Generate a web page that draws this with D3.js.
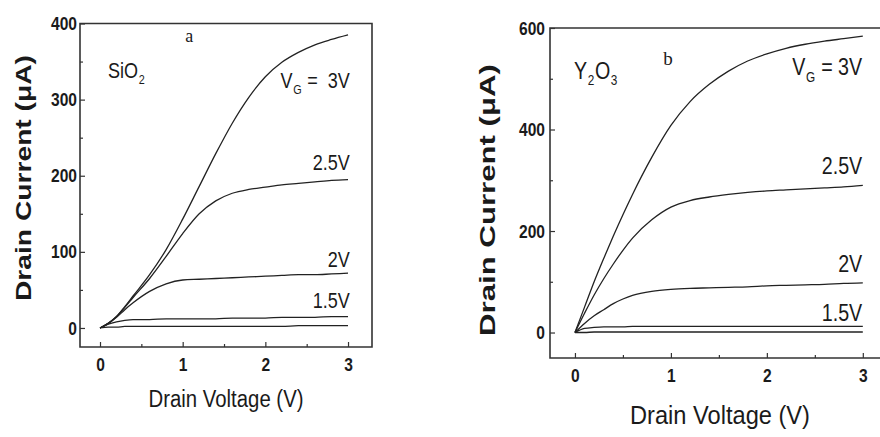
<!DOCTYPE html>
<html>
<head>
<meta charset="utf-8">
<script src="https://cdn.jsdelivr.net/npm/d3@7"></script>
<style>
  body { margin: 0; background: #fff; }
  svg { display: block; }
</style>
</head>
<body>
<svg id="chart" width="880" height="437"></svg>
<script>
// ---- Output characteristics, SiO2 gate dielectric (drain current in µA) ----
const sio2Vd   = [0, 0.1, 0.2, 0.3, 0.4, 0.6, 0.8, 1.0, 1.2, 1.4, 1.6, 1.8, 2.0, 2.2, 2.4, 2.6, 2.8, 3.0];
const sio2Vg3  = [0, 6, 15, 28, 42, 70, 103, 143, 186, 229, 269, 303, 330, 349, 362, 372, 379, 385];
const sio2Vg25 = [0, 6, 15, 27, 40, 65, 94, 124, 150, 167, 177, 182, 185, 188, 190, 192, 194, 195];
const sio2Vg2  = [0, 6, 14, 24, 33, 48, 58, 63, 64, 65, 66, 67, 68, 69, 70, 70, 71, 72];
const sio2Vg15 = [0, 5, 8, 10, 11, 11, 12, 12, 12, 12, 13, 13, 13, 14, 14, 14, 15, 15];
const sio2Vg1  = [0, 1, 1, 2, 2, 2, 2, 2, 2, 2, 2, 2, 2, 2, 3, 3, 3, 3];

// ---- Output characteristics, Y2O3 gate dielectric (drain current in µA) ----
const y2o3Vd   = [0, 0.1, 0.2, 0.3, 0.4, 0.5, 0.6, 0.8, 1.0, 1.2, 1.4, 1.6, 1.8, 2.0, 2.2, 2.4, 2.6, 2.8, 3.0];
const y2o3Vg3  = [0, 50, 100, 146, 190, 232, 272, 345, 408, 455, 489, 515, 535, 549, 560, 568, 574, 579, 584];
const y2o3Vg25 = [0, 38, 74, 106, 135, 162, 186, 222, 247, 260, 267, 272, 276, 279, 281, 283, 285, 287, 290];
const y2o3Vg2  = [0, 18, 33, 45, 57, 66, 73, 81, 85, 87, 88, 89, 90, 92, 93, 94, 95, 97, 98];
const y2o3Vg15 = [0, 8, 10, 11, 11, 11, 12, 12, 12, 12, 12, 12, 12, 12, 12, 12, 12, 12, 12];
const y2o3Vg1  = [0, 0, 1, 1, 1, 1, 1, 1, 1, 1, 1, 1, 1, 1, 1, 1, 1, 1, 1];

// ---- Gate-voltage labels (first one carries the "V_G =" prefix) ----
const gateLabels = ["3V", "2.5V", "2V", "1.5V"];

// ---- Tick values ----
const sio2YTicks = [0, 100, 200, 300, 400];
const sio2YMinor = [50, 150, 250, 350];
const y2o3YTicks = [0, 200, 400, 600];
const y2o3YMinor = [100, 300, 500];
const xTicks = [0, 1, 2, 3];
const xMinor = [0.5, 1.5, 2.5];

const NARROW = "'Liberation Sans Narrow', 'Arial Narrow', 'Liberation Sans', Arial, sans-serif";
const WIDE = "'Liberation Sans', Arial, sans-serif";
const SERIF = "'Liberation Serif', 'Times New Roman', serif";
const INK = "#1a1a1a";

const svg = d3.select("#chart");

// horizontal squeeze for the narrow lettering when no condensed face is available
const probe = svg.append("text").style("font-family", NARROW).style("font-size", "100px").text("0000000000");
const SQUEEZE = probe.node().getComputedTextLength() < 500 ? 1 : 0.82;
probe.remove();

// Draws a run of normal / subscript pieces as separate text nodes laid end to end.
function richText(g, x, y, parts, size, anchor) {
  const grp = g.append("g");
  let cx = 0;
  parts.forEach(part => {
    const fs = part.sub ? size * 0.6 : size;
    const t = grp.append("text")
      .attr("x", cx / SQUEEZE)
      .attr("y", part.sub ? size * 0.27 : 0)
      .attr("fill", INK)
      .style("font-family", NARROW)
      .style("font-size", fs + "px")
      .text(part.t);
    cx += t.node().getComputedTextLength() * SQUEEZE + 0.6;
  });
  const shift = anchor === "end" ? -cx : 0;
  grp.attr("transform", `translate(${x + shift},${y}) scale(${SQUEEZE},1)`);
  return grp;
}

const panels = [
  {
    material: [{ t: "SiO" }, { t: "2", sub: true }], letter: "a",
    vd: sio2Vd, series: [sio2Vg3, sio2Vg25, sio2Vg2, sio2Vg15, sio2Vg1],
    xDomain: [-0.242, 3.29], xRange: [80, 372],
    yDomain: [-25, 400], yRange: [347, 23.5],
    yTicks: sio2YTicks, yMinor: sio2YMinor,
    frameRight: 372,
    tickFont: 19, titleFont: 22, xTitleFont: 23, labelFont: 22, materialFont: 22,
    yTitle: { x: 31, y: 178, len: 246 },
    xTitle: { x: 226, y: 407, len: 155 },
    xTickBaseline: 372, yTickRight: 77,
    // label anchors in data units (V, µA): right-aligned text baselines
    labelAt: [[3.03, 315], [3.03, 208], [3.03, 80], [3.03, 26]],
    materialAt: [0.097, 328], letterAt: [1.03, 376],
    letterFont: 18, vgGap: "\u00a0=\u00a0\u00a0"
  },
  {
    material: [{ t: "Y" }, { t: "2", sub: true }, { t: "O" }, { t: "3", sub: true }], letter: "b",
    vd: y2o3Vd, series: [y2o3Vg3, y2o3Vg25, y2o3Vg2, y2o3Vg15, y2o3Vg1],
    xDomain: [-0.26, 3.2], xRange: [550, 882],
    yDomain: [-50.2, 600], yRange: [358, 28],
    yTicks: y2o3YTicks, yMinor: y2o3YMinor,
    frameRight: 882,
    tickFont: 19, titleFont: 22, xTitleFont: 25, labelFont: 24, materialFont: 24,
    yTitle: { x: 495, y: 200, len: 272 },
    xTitle: { x: 720, y: 424, len: 180 },
    xTickBaseline: 383, yTickRight: 545,
    labelAt: [[3.0, 507], [3.0, 312], [3.0, 119], [3.0, 23]],
    materialAt: [-0.01, 500], letterAt: [0.92, 527],
    letterFont: 19, vgGap: "\u00a0=\u00a0"
  }
];

panels.forEach(p => {
  const x = d3.scaleLinear().domain(p.xDomain).range(p.xRange);
  const y = d3.scaleLinear().domain(p.yDomain).range(p.yRange);
  const g = svg.append("g");

  const [x0] = p.xRange;
  const [yb, yt] = p.yRange;

  // frame
  g.append("path")
    .attr("d", `M${x0},${yt}H${p.frameRight}V${yb}H${x0}Z`)
    .attr("fill", "none").attr("stroke", "#333").attr("stroke-width", 1.6);

  // inward major / minor ticks
  const yAxis = d3.axisLeft(y).tickValues(p.yTicks).tickSizeInner(-5).tickSizeOuter(0)
    .tickPadding(x0 - p.yTickRight).tickFormat(d3.format("d"));
  const ya = g.append("g").attr("transform", `translate(${x0},0)`).call(yAxis);
  const yMinorAxis = d3.axisLeft(y).tickValues(p.yMinor).tickSizeInner(-3).tickSizeOuter(0).tickFormat("");
  const yb2 = g.append("g").attr("transform", `translate(${x0},0)`).call(yMinorAxis);

  const xAxis = d3.axisBottom(x).tickValues(xTicks).tickSizeInner(-5).tickSizeOuter(0)
    .tickPadding(p.xTickBaseline - yb - 14).tickFormat(d3.format("d"));
  const xa = g.append("g").attr("transform", `translate(0,${yb})`).call(xAxis);
  const xMinorAxis = d3.axisBottom(x).tickValues(xMinor).tickSizeInner(-3).tickSizeOuter(0).tickFormat("");
  const xb2 = g.append("g").attr("transform", `translate(0,${yb})`).call(xMinorAxis);

  [ya, yb2, xa, xb2].forEach(a => {
    a.select(".domain").remove();
    a.selectAll("line").attr("stroke", "#333").attr("stroke-width", 1.2);
    a.selectAll("text")
      .attr("fill", INK)
      .style("font-family", NARROW)
      .style("font-weight", "bold")
      .style("font-size", p.tickFont + "px")
      .each(function () {
        if (SQUEEZE < 1) {
          const len = this.getComputedTextLength();
          d3.select(this).attr("textLength", len * SQUEEZE).attr("lengthAdjust", "spacingAndGlyphs");
        }
      });
  });
  xa.selectAll("text").attr("dy", "0.71em");

  // curves
  const line = d3.line()
    .x((d, i) => x(p.vd[i]))
    .y(d => y(d))
    .curve(d3.curveMonotoneX);
  p.series.forEach(s => {
    g.append("path").datum(s)
      .attr("d", line)
      .attr("fill", "none")
      .attr("stroke", "#222")
      .attr("stroke-width", 1.3)
      .attr("stroke-linejoin", "round");
  });

  // gate-voltage labels
  gateLabels.forEach((lab, i) => {
    const [lv, li] = p.labelAt[i];
    const parts = i === 0
      ? [{ t: "V" }, { t: "G", sub: true }, { t: p.vgGap + lab }]
      : [{ t: lab }];
    richText(g, x(lv), y(li), parts, p.labelFont, "end");
  });

  // material name with subscripts
  richText(g, x(p.materialAt[0]), y(p.materialAt[1]), p.material, p.materialFont, "start");

  // panel letter
  g.append("text")
    .attr("x", x(p.letterAt[0])).attr("y", y(p.letterAt[1]))
    .attr("fill", INK)
    .style("font-family", SERIF)
    .style("font-size", p.letterFont + "px")
    .text(p.letter);

  // axis titles
  g.append("text")
    .attr("transform", `translate(${p.yTitle.x},${p.yTitle.y}) rotate(-90)`)
    .attr("text-anchor", "middle")
    .attr("fill", INK)
    .attr("textLength", p.yTitle.len).attr("lengthAdjust", "spacingAndGlyphs")
    .style("font-family", WIDE)
    .style("font-weight", "bold")
    .style("font-size", p.titleFont + "px")
    .text("Drain Current (\u03bcA)");

  g.append("text")
    .attr("x", p.xTitle.x).attr("y", p.xTitle.y)
    .attr("text-anchor", "middle")
    .attr("fill", INK)
    .attr("textLength", p.xTitle.len).attr("lengthAdjust", "spacingAndGlyphs")
    .style("font-family", NARROW)
    .style("font-size", p.xTitleFont + "px")
    .text("Drain Voltage (V)");
});
</script>
</body>
</html>
